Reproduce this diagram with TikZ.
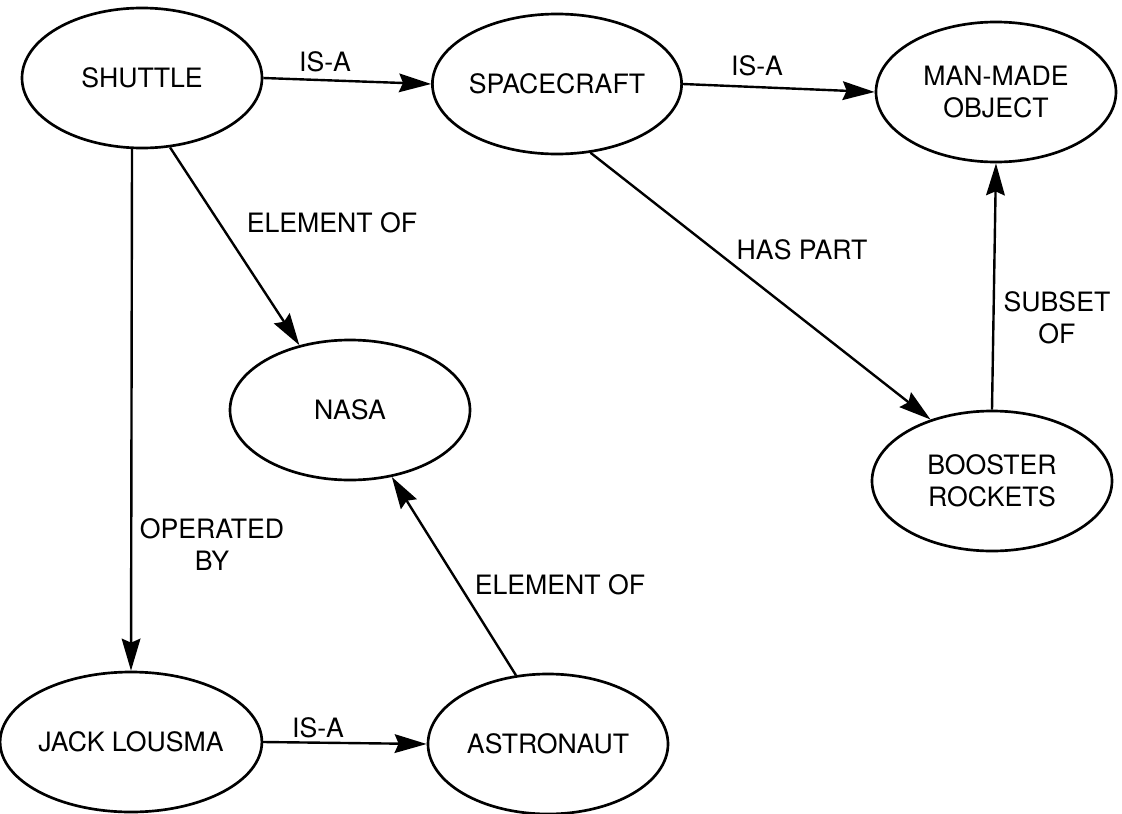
\documentclass[tikz,border=0pt]{standalone}
\usepackage{fontspec}
\setmainfont{TeX Gyre Heros}
\usetikzlibrary{shapes.geometric,arrows.meta}
\newcommand\lblfont{\fontsize{20}{24}\selectfont}
\begin{document}
\begin{tikzpicture}[x=0.75pt,y=-0.75pt,
  concept/.style={ellipse, draw, line width=2pt, minimum width=180pt, minimum height=105pt, inner sep=0pt, align=center, font=\lblfont},
  rel/.style={font=\lblfont, align=center, inner sep=0pt},
  conn/.style={line width=1.8pt, -{Stealth[length=24pt,width=14pt,inset=3pt]}}]
\fill[white] (0,0) rectangle (1122,814);
\useasboundingbox (0,0) rectangle (1122,814);
% concepts
\node[concept] (shuttle) at (142,78) {SHUTTLE};
\node[concept] (spacecraft) at (557,84) {SPACECRAFT};
\node[concept] (manmade) at (996,92) {MAN-MADE\\OBJECT};
\node[concept] (nasa) at (350,410) {NASA};
\node[concept] (booster) at (992,481) {BOOSTER\\ROCKETS};
\node[concept] (jack) at (131,742) {JACK LOUSMA};
\node[concept] (astro) at (548,744) {ASTRONAUT};
% relation labels
\node[rel] (isa1) at (325,62) {IS-A};
\node[rel] (isa2) at (757,66) {IS-A};
\node[rel] (elem1) at (332,223) {ELEMENT OF};
\node[rel] (haspart) at (802,250) {HAS PART};
\node[rel] (subset) at (1057,318) {SUBSET\\OF};
\node[rel] (operated) at (212,545) {OPERATED\\BY};
\node[rel] (elem2) at (560,585) {ELEMENT OF};
\node[rel] (isa3) at (318,728) {IS-A};
% connectors
\draw[conn] (shuttle.east) -- (spacecraft.west);
\draw[conn] (spacecraft.east) -- (manmade.west);
\draw[conn] (shuttle.262) -- (jack.north);
\draw[conn] (shuttle.292) -- (nasa.128);
\draw[conn] (spacecraft.296) -- (booster.135);
\draw[conn] (booster.north) -- (manmade.south);
\draw[conn] (jack.east) -- (astro.west);
\draw[conn] (astro.115) -- (nasa.302);
\end{tikzpicture}
\end{document}
